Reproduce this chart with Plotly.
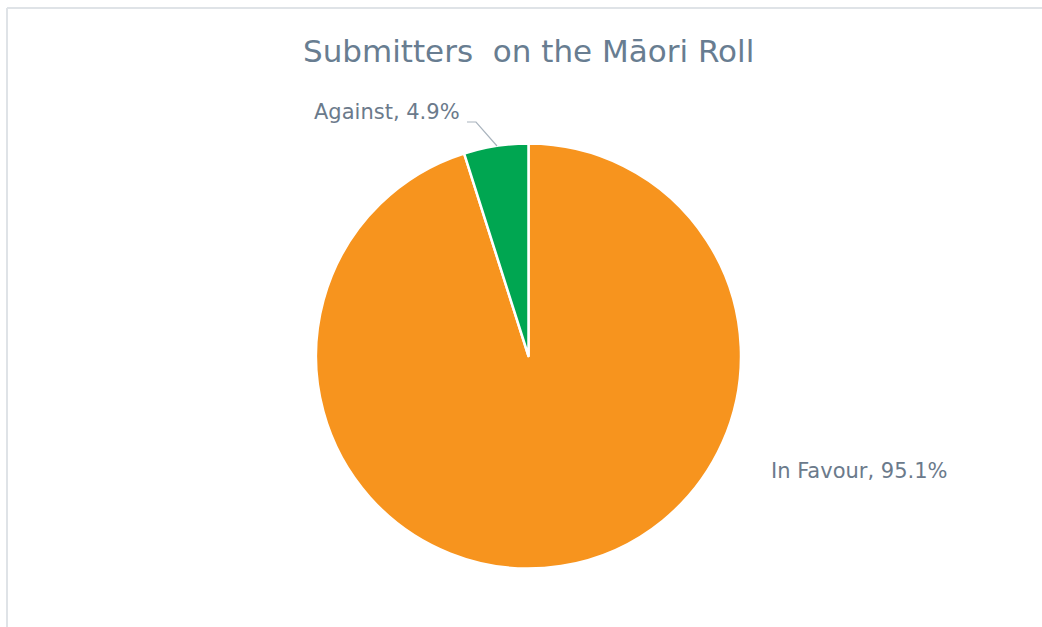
import plotly.graph_objects as go

labels = ["In Favour", "Against"]
values = [95.1, 4.9]
colors = ["#F7941E", "#00A651"]
title_text = "Submitters&nbsp; on the Māori Roll"

W, H = 1042, 627
cx, cy, r = 528.5, 356, 212.5

def px(x):
    return x / W

def py(y):
    return 1 - y / H

fig = go.Figure(go.Pie(
    labels=labels,
    values=values,
    sort=False,
    direction="clockwise",
    rotation=0,
    textinfo="none",
    hoverinfo="label+percent",
    marker=dict(colors=colors, line=dict(color="white", width=2.5)),
    domain=dict(x=[px(cx - r), px(cx + r)], y=[py(cy + r), py(cy - r)]),
    showlegend=False,
))

label_col = "#6b7a8b"
lab_font = dict(family="DejaVu Sans, Verdana, sans-serif", size=21, color=label_col)

fig.add_annotation(x=px(769), y=py(471), xref="paper", yref="paper",
                   text=f"{labels[0]}, {values[0]}%", showarrow=False,
                   xanchor="left", yanchor="middle", font=lab_font)
fig.add_annotation(x=px(462), y=py(112), xref="paper", yref="paper",
                   text=f"{labels[1]}, {values[1]}%", showarrow=False,
                   xanchor="right", yanchor="middle", font=lab_font)

fig.add_annotation(x=px(528), y=py(51), xref="paper", yref="paper",
                   text=title_text, showarrow=False,
                   xanchor="center", yanchor="middle",
                   font=dict(family="DejaVu Sans, Verdana, sans-serif", size=31, color="#687d91"))

shapes = [
    dict(type="path", xref="paper", yref="paper",
         path=f"M {px(467)},{py(122)} L {px(476)},{py(122)} L {px(497)},{py(146)}",
         line=dict(color="#aab4be", width=1.2)),
    dict(type="line", xref="paper", yref="paper", x0=px(7), x1=px(1050), y0=py(8), y1=py(8),
         line=dict(color="#dfe3e7", width=2)),
    dict(type="line", xref="paper", yref="paper", x0=px(7), x1=px(7), y0=py(8), y1=py(640),
         line=dict(color="#dfe3e7", width=2)),
]

fig.update_layout(
    width=W, height=H,
    margin=dict(l=0, r=0, t=0, b=0),
    paper_bgcolor="white", plot_bgcolor="white",
    shapes=shapes,
)

fig.write_html("out.html")
